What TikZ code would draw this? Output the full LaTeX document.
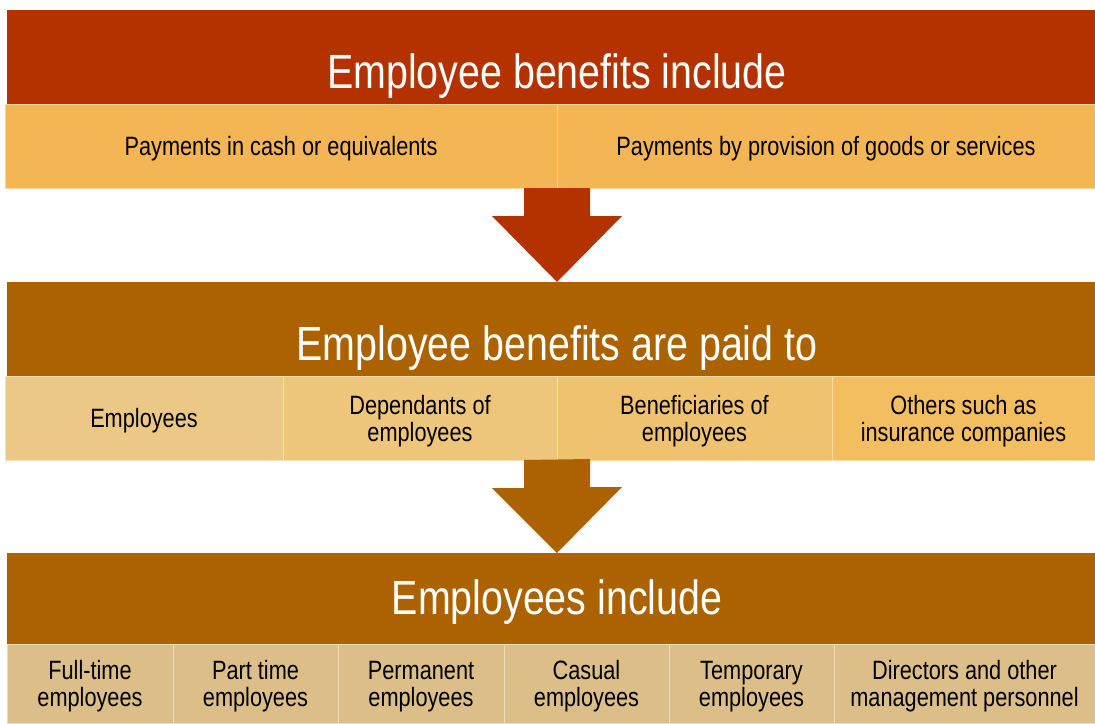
\documentclass[tikz,border=0pt]{standalone}
\usepackage{fontspec}
\setmainfont{Liberation Sans}[FakeStretch=0.82]
\usepackage{xcolor}
\usepackage{tikz}
\usetikzlibrary{positioning, calc}

\definecolor{rustred}{HTML}{B33200}
\definecolor{ochre}{HTML}{AD6200}
\definecolor{sand}{HTML}{F4B654}
\definecolor{wheatA}{HTML}{ECC886}
\definecolor{wheatB}{HTML}{EDC57B}
\definecolor{wheatC}{HTML}{EFC270}
\definecolor{wheatD}{HTML}{F2BE5F}
\definecolor{tan}{HTML}{DBBE88}

\tikzset{
  band/.style={fill=#1, anchor=north west, minimum width=1088pt, inner sep=0pt, outer sep=0pt},
  bandtitle/.style={text=white, inner sep=0pt, font=\fontsize{48}{50}\selectfont},
  cell/.style={fill=#1, draw=#1!55!white, line width=1pt, anchor=north west, align=center,
    inner sep=0pt, outer sep=0pt, font=\fontsize{26.5}{27}\selectfont, text depth=0pt},
}

% block arrow from a cell edge down to the next band
\newcommand{\blockdown}[3]{%
  \fill[#3] (#1) ++(-33,0) -- ++(0,28) -- ++(-32,0) -- (#1 |- #2.north)
    -- ++(65,-66) -- ++(-32,0) -- ++(0,-28) -- cycle;}

\begin{document}
\begin{tikzpicture}[x=1pt, y=-1pt]
\useasboundingbox (0,0) rectangle (1095,723);

% first band
\node[band=rustred, minimum height=94pt] (incband) at (7,10) {};
\node[cell=sand, minimum width=552pt, minimum height=84pt] (cash) at (5,104) {Payments in cash or equivalents};
\node[cell=sand, minimum width=538pt, minimum height=84pt, right=0pt of cash] (goods) {Payments by provision of goods or services};
\node[bandtitle, yshift=-19pt] (inctitle) at (cash.south east |- incband.center) {Employee benefits include};

% second band
\node[band=ochre, minimum height=94pt] (paidband) at (7,282) {};
\node[cell=wheatA, minimum width=278pt, minimum height=84pt] (emp) at (5,376) {Employees};
\node[cell=wheatB, minimum width=274pt, minimum height=84pt, right=0pt of emp] (dep) {Dependants of\\employees};
\node[cell=wheatC, minimum width=275pt, minimum height=84pt, right=0pt of dep] (ben) {Beneficiaries of\\employees};
\node[cell=wheatD, minimum width=263pt, minimum height=84pt, right=0pt of ben] (oth) {Others such as\\insurance companies};
\node[bandtitle, yshift=-19pt] (paidtitle) at (dep.south east |- paidband.center) {Employee benefits are paid to};

% third band
\node[band=ochre, minimum height=91pt] (empband) at (7,553) {};
\node[bandtitle, yshift=-4pt] (emptitle) at (dep.south east |- empband.center) {Employees include};
\node[cell=tan, minimum width=166pt, minimum height=79pt] (ft) at (7,644) {Full-time\\employees};
\node[cell=tan, minimum width=165pt, minimum height=79pt, right=0pt of ft] (pt) {Part time\\employees};
\node[cell=tan, minimum width=166pt, minimum height=79pt, right=0pt of pt] (perm) {Permanent\\employees};
\node[cell=tan, minimum width=165pt, minimum height=79pt, right=0pt of perm] (cas) {Casual\\employees};
\node[cell=tan, minimum width=165pt, minimum height=79pt, right=0pt of cas] (temp) {Temporary\\employees};
\node[cell=tan, minimum width=261pt, minimum height=79pt, right=0pt of temp] (dir) {Directors and other\\management personnel};

% arrows
\blockdown{cash.south east}{paidband}{rustred}
\blockdown{dep.south east}{empband}{ochre}
\end{tikzpicture}
\end{document}
